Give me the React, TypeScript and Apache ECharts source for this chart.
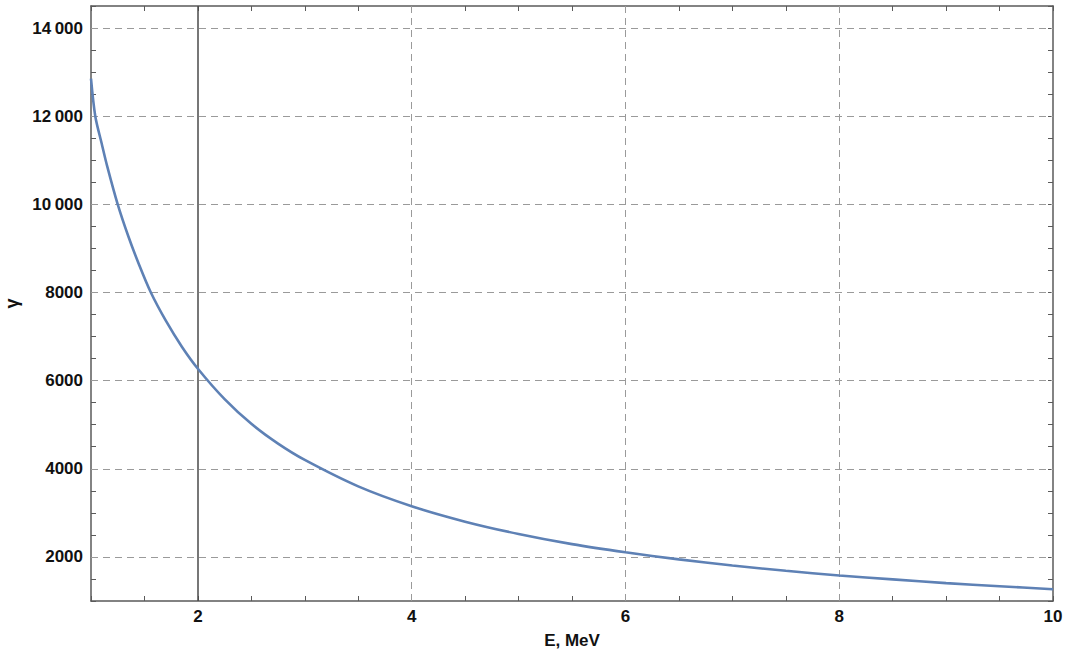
import React, { useEffect, useRef } from "react";
import * as echarts from "echarts";

const energy = [1.0, 1.04, 1.1, 1.15, 1.25, 1.35, 1.45, 1.56, 1.7, 1.85, 2.0, 2.25, 2.5, 2.75, 3.0, 3.5, 4.0, 4.5, 5.0, 5.5, 6.0, 6.5, 7.0, 7.5, 8.0, 8.5, 9.0, 9.5, 10.0];
const gamma = [12850, 12000, 11380, 10880, 10000, 9270, 8630, 8000, 7360, 6770, 6270, 5580, 5020, 4570, 4200, 3600, 3150, 2800, 2520, 2290, 2105, 1945, 1805, 1685, 1580, 1490, 1405, 1335, 1267];

const xLabelTicks = [2, 4, 6, 8, 10];
const yLabelTicks = [2000, 4000, 6000, 8000, 10000, 12000, 14000];
const xGrid = [4, 6, 8];
const yGrid = [2000, 4000, 6000, 8000, 10000, 12000, 14000];
const markerX = 2;

const FRAME = "#5a5a5a";
const FONT = "'Liberation Sans', Arial, sans-serif";

function fmtY(v: number): string {
  if (v >= 10000) {
    const s = String(v);
    return s.slice(0, s.length - 3) + "\u2009" + s.slice(s.length - 3);
  }
  return String(v);
}

export default function App() {
  const ref = useRef<HTMLDivElement>(null);
  useEffect(() => {
    if (!ref.current) return;
    const chart = echarts.init(ref.current, undefined, { renderer: "svg" });
    const baseX = {
      type: "value" as const,
      min: 1,
      max: 10,
      interval: 0.5,
      axisLine: { show: true, onZero: false, lineStyle: { color: FRAME, width: 1.5 } },
      axisTick: { show: true, inside: true, length: 5, lineStyle: { color: FRAME, width: 1 } },
      splitLine: { show: false },
    };
    const baseY = {
      type: "value" as const,
      min: 1000,
      max: 14500,
      interval: 500,
      axisLine: { show: true, onZero: false, lineStyle: { color: FRAME, width: 1.5 } },
      axisTick: { show: true, inside: true, length: 5, lineStyle: { color: FRAME, width: 1 } },
      splitLine: { show: false },
    };
    chart.setOption({
      animation: false,
      backgroundColor: "#ffffff",
      grid: { left: 91, right: 17, top: 6, bottom: 53, containLabel: false, outerBoundsMode: "none" },
      xAxis: [
        {
          ...baseX,
          position: "bottom",
          name: "E, MeV",
          nameLocation: "middle",
          nameGap: 31,
          nameTextStyle: { fontFamily: FONT, fontWeight: "bold", fontSize: 17, color: "#111" },
          axisLabel: {
            show: true,
            margin: 7,
            fontFamily: FONT,
            fontWeight: "bold",
            fontSize: 17,
            color: "#111",
            showMinLabel: true,
            showMaxLabel: true,
            formatter: (v: number) => (xLabelTicks.indexOf(v) >= 0 ? String(v) : ""),
          },
        },
        { ...baseX, position: "top", axisLabel: { show: false } },
      ],
      yAxis: [
        {
          ...baseY,
          position: "left",
          name: "γ",
          nameLocation: "middle",
          nameGap: 68,
          nameRotate: 90,
          nameTextStyle: { fontFamily: FONT, fontWeight: "bold", fontSize: 18, color: "#111" },
          axisLabel: {
            show: true,
            margin: 8,
            fontFamily: FONT,
            fontWeight: "bold",
            fontSize: 17,
            color: "#111",
            formatter: (v: number) => (yLabelTicks.indexOf(v) >= 0 ? fmtY(v) : ""),
          },
        },
        { ...baseY, position: "right", axisLabel: { show: false } },
      ],
      series: [
        {
          type: "line",
          xAxisIndex: 0,
          yAxisIndex: 0,
          data: energy.map((e, i) => [e, gamma[i]]),
          smooth: 0.3,
          showSymbol: false,
          symbol: "none",
          lineStyle: { color: "#5E81B5", width: 2.6 },
          clip: true,
          markLine: {
            silent: true,
            symbol: "none",
            label: { show: false },
            z: 1,
            data: [
              ...xGrid.map((v) => ({ xAxis: v, lineStyle: { color: "#9a9a9a", width: 1, type: [7, 5] } })),
              ...yGrid.map((v) => ({ yAxis: v, lineStyle: { color: "#9a9a9a", width: 1, type: [7, 5] } })),
              { xAxis: markerX, lineStyle: { color: "#4a4a4a", width: 1.5, type: "solid" } },
            ],
          },
        },
      ],
    });
    return () => chart.dispose();
  }, []);
  return (
    <div
      ref={ref}
      style={{ position: "absolute", left: 0, top: 0, width: 1070, height: 654, background: "#fff" }}
    />
  );
}
